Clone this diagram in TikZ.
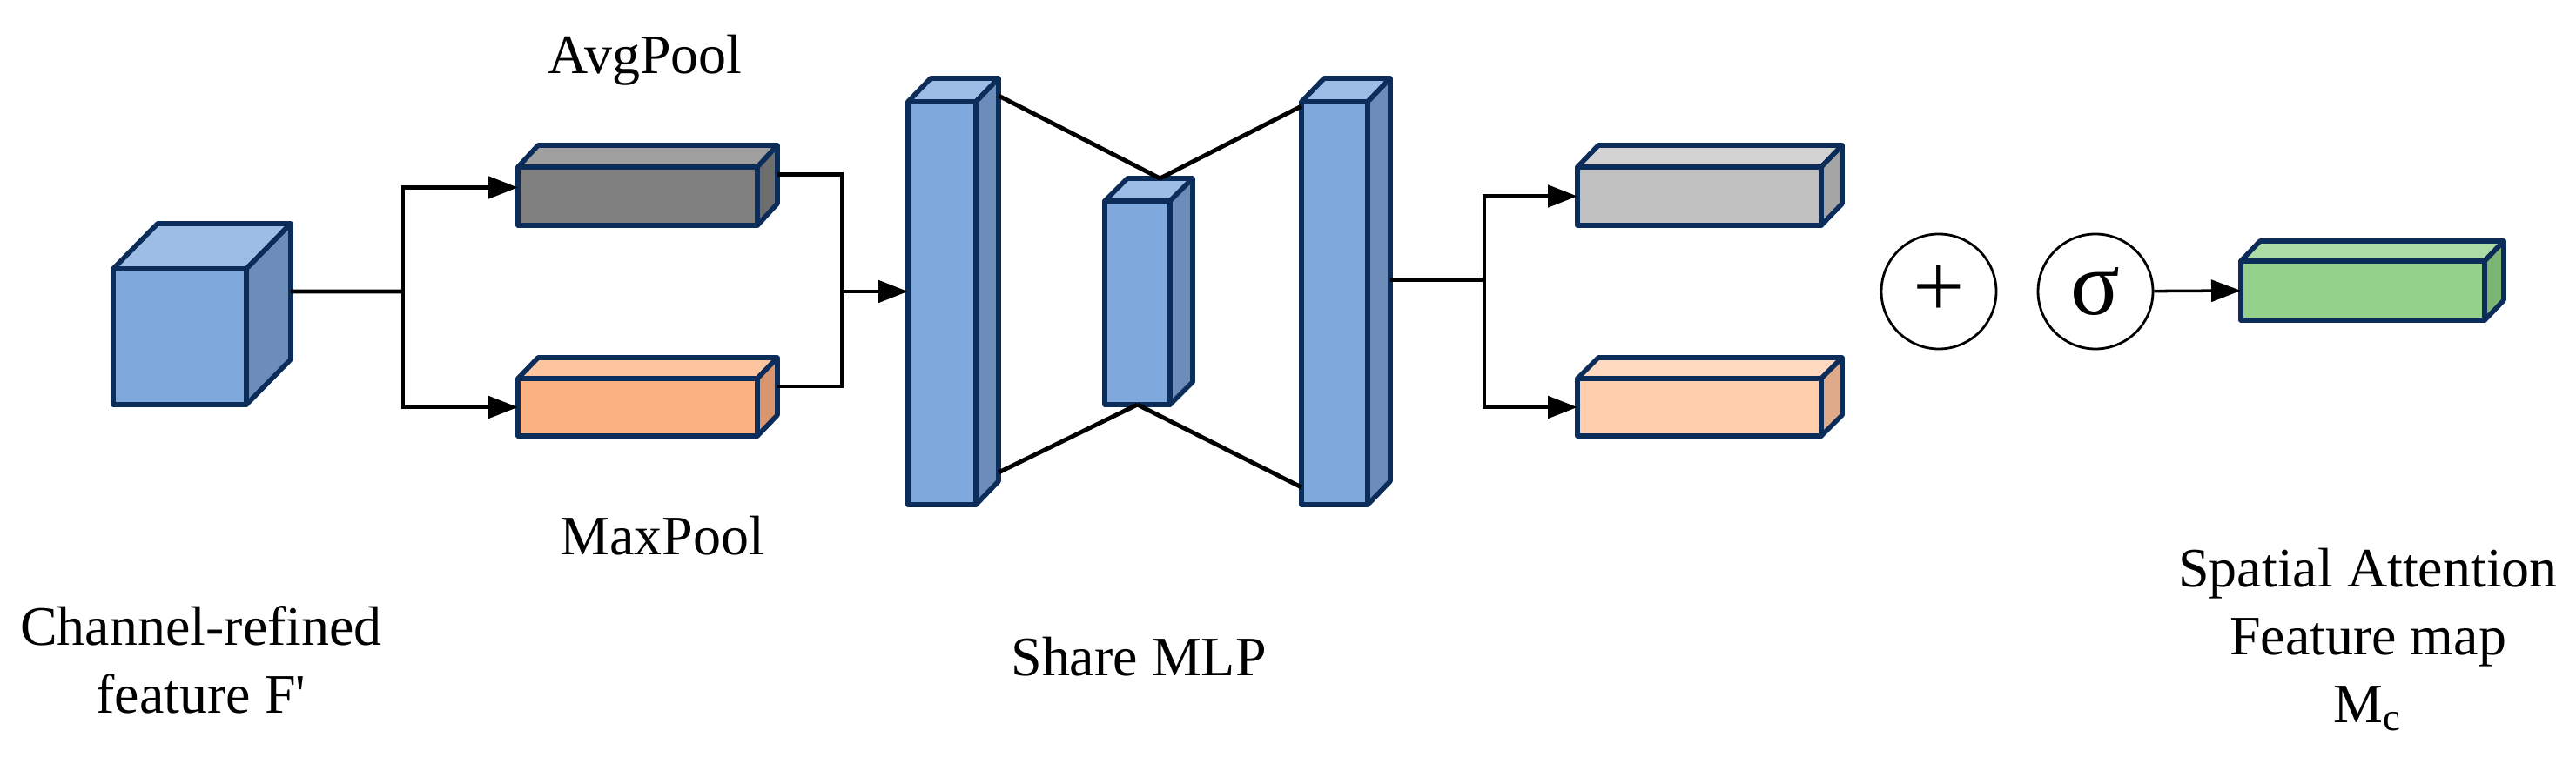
\documentclass[tikz,border=0pt]{standalone}
\usepackage{fontspec}
\setmainfont{Liberation Serif}
\usetikzlibrary{calc,arrows.meta}

\definecolor{navy}{RGB}{12,44,90}
\definecolor{bluefront}{RGB}{128,170,222}
\definecolor{bluetop}{RGB}{157,189,230}
\definecolor{blueside}{RGB}{108,140,185}
\definecolor{darkfront}{RGB}{128,128,128}
\definecolor{darktop}{RGB}{160,160,160}
\definecolor{darkside}{RGB}{110,110,110}
\definecolor{peachfront}{RGB}{252,177,131}
\definecolor{peachtop}{RGB}{253,196,160}
\definecolor{peachside}{RGB}{218,149,108}
\definecolor{greyfront}{RGB}{192,192,192}
\definecolor{greytop}{RGB}{210,210,210}
\definecolor{greyside}{RGB}{165,165,165}
\definecolor{lightfront}{RGB}{255,206,172}
\definecolor{lighttop}{RGB}{255,218,192}
\definecolor{lightside}{RGB}{222,170,138}
\definecolor{greenfront}{RGB}{148,209,139}
\definecolor{greentop}{RGB}{172,220,165}
\definecolor{greenside}{RGB}{124,181,116}

\tikzstyle{face}=[rectangle,draw=navy,line width=1.6pt,line join=round,inner sep=0pt,outer sep=0pt]
\tikzstyle{wire}=[line width=1.4pt,line join=miter]
\tikzstyle{arrow}=[wire,-{Triangle[length=0.34cm,width=0.25cm]}]
\tikzstyle{op}=[circle,draw=black,line width=0.8pt,minimum size=1.32cm,inner sep=0pt,font=\fontsize{30}{30}\selectfont]
\tikzstyle{txt}=[inner sep=0pt,align=center,font=\fontsize{18.2}{22.2}\selectfont]

% name, centre, width, height, depth x, depth y, colour
\newcommand{\cuboid}[7]{%
  \node (#1) at #2 [face,fill=#7front,minimum width=#3cm,minimum height=#4cm] {};
  \draw [face,fill=#7top] (#1.north west) -- ++(#5,#6) -- ++(#3,0) -- (#1.north east) -- cycle;
  \draw [face,fill=#7side] (#1.north east) -- ++(#5,#6) -- ++(0,-#4) -- (#1.south east) -- cycle;
  \coordinate (#1-e) at ($(#1.east)+(#5,#6)$);
}

\begin{document}
\begin{tikzpicture}
			\useasboundingbox (0,0) rectangle (29.59,8.78);
			
			\cuboid{cube}{(2.065,4.91)}{1.53}{1.56}{0.51}{0.52}{blue}
			\cuboid{avg}{(7.325,6.525)}{2.75}{0.67}{0.23}{0.25}{dark}
			\cuboid{max}{(7.325,4.10)}{2.75}{0.66}{0.23}{0.24}{peach}
			\cuboid{mlpa}{(10.82,5.295)}{0.78}{4.63}{0.26}{0.27}{blue}
			\cuboid{mlpb}{(13.065,5.30)}{0.75}{2.34}{0.26}{0.26}{blue}
			\cuboid{mlpc}{(15.33,5.295)}{0.76}{4.63}{0.26}{0.27}{blue}
			\cuboid{upout}{(19.52,6.525)}{2.80}{0.67}{0.24}{0.25}{grey}
			\cuboid{lowout}{(19.52,4.10)}{2.80}{0.66}{0.24}{0.24}{light}
			\cuboid{attn}{(27.14,5.44)}{2.80}{0.68}{0.22}{0.23}{green}
			
			\node (plus) at (22.27,5.43) [op] {+};
			\node (sigma) at (24.07,5.43) [op] {σ};
			
			\coordinate (split) at (4.63,5.43);
			\coordinate (merge) at (9.67,5.43);
			\coordinate (fork) at (17.05,5.565);
			
			\draw [wire] (cube-e) -- (split);
			\draw [arrow] (split) |- ($(avg.west)+(0,0.1)$);
			\draw [arrow] (split) |- (max.west);
			\draw [wire] (avg-e) -| (merge);
			\draw [wire] (max-e) -| (merge);
			\draw [arrow] (merge) -- (merge -| mlpa.west);
			
			\draw [wire] ($(mlpa.north east)+(0.26,0.07)$) -- ($(mlpb.north)+(0.26,0.26)$);
			\draw [wire] ($(mlpb.north)+(0.26,0.26)$) -- ($(mlpc.north west)+(0,-0.05)$);
			\draw [wire] ($(mlpa.south east)+(0.26,0.37)$) -- (mlpb.south);
			\draw [wire] (mlpb.south) -- ($(mlpc.south west)+(0,0.2)$);
			
			\draw [wire] (mlpc-e) -- (fork);
			\draw [arrow] (fork) |- (upout.west);
			\draw [arrow] (fork) |- (lowout.west);
			\draw [arrow,line width=1pt] (sigma) -- (attn.west);
			
			\node (avglabel) at (7.41,7.93) [txt,anchor=base] {AvgPool};
			\node (maxlabel) at (7.61,2.40) [txt,anchor=base] {MaxPool};
			\node (mlplabel) at (13.08,1.01) [txt,anchor=base] {Share MLP};
			\node (inlabel) at (2.31,1.82) [txt,anchor=north] {Channel-refined\\feature F\textquotesingle};
			\node (outlabel) at (27.20,2.49) [txt,anchor=north] {Spatial Attention\\Feature map\\M\textsubscript{c}};
		\end{tikzpicture}
\end{document}
